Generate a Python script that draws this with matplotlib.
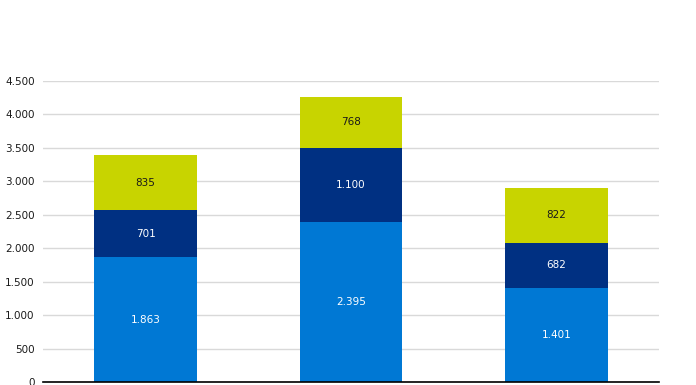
import matplotlib
matplotlib.use("Agg")
import matplotlib.pyplot as plt
from matplotlib.ticker import FuncFormatter

# data
categories = ["A", "B", "C"]
serie_1 = [1863, 2395, 1401]
serie_2 = [701, 1100, 682]
serie_3 = [835, 768, 822]

colores = ["#0078d4", "#003082", "#c8d400"]
color_texto = ["white", "white", "#1a1a1a"]


def miles(v, pos=None):
    return f"{int(v):,}".replace(",", ".")


fig = plt.figure(figsize=(6.96, 3.85), dpi=100)
ax = fig.add_axes([0.0618, 0.0078, 0.885, 0.782])

x = range(len(categories))
base = [0] * len(categories)
for serie, col, tc in zip([serie_1, serie_2, serie_3], colores, color_texto):
    bars = ax.bar(x, serie, bottom=base, width=0.5, color=col, zorder=3)
    for b, v, b0 in zip(bars, serie, base):
        ax.text(b.get_x() + b.get_width() / 2, b0 + v / 2, miles(v),
                ha="center", va="center", color=tc, fontsize=7.5, zorder=4)
    base = [a + v for a, v in zip(base, serie)]

ax.set_xlim(-0.5, 2.5)
ax.set_ylim(0, 4500)
ax.set_yticks(range(0, 4501, 500))
ax.yaxis.set_major_formatter(FuncFormatter(miles))
ax.set_xticks([])
ax.grid(axis="y", color="#d9d9d9", linewidth=1, zorder=0)
for s in ["left", "right", "top"]:
    ax.spines[s].set_visible(False)
ax.spines["bottom"].set_color("black")
ax.spines["bottom"].set_linewidth(1.2)
ax.spines["bottom"].set_zorder(5)
ax.tick_params(axis="y", length=0, labelsize=7.5, pad=6, colors="#1a1a1a")

fig.savefig("out.png", dpi=100)
